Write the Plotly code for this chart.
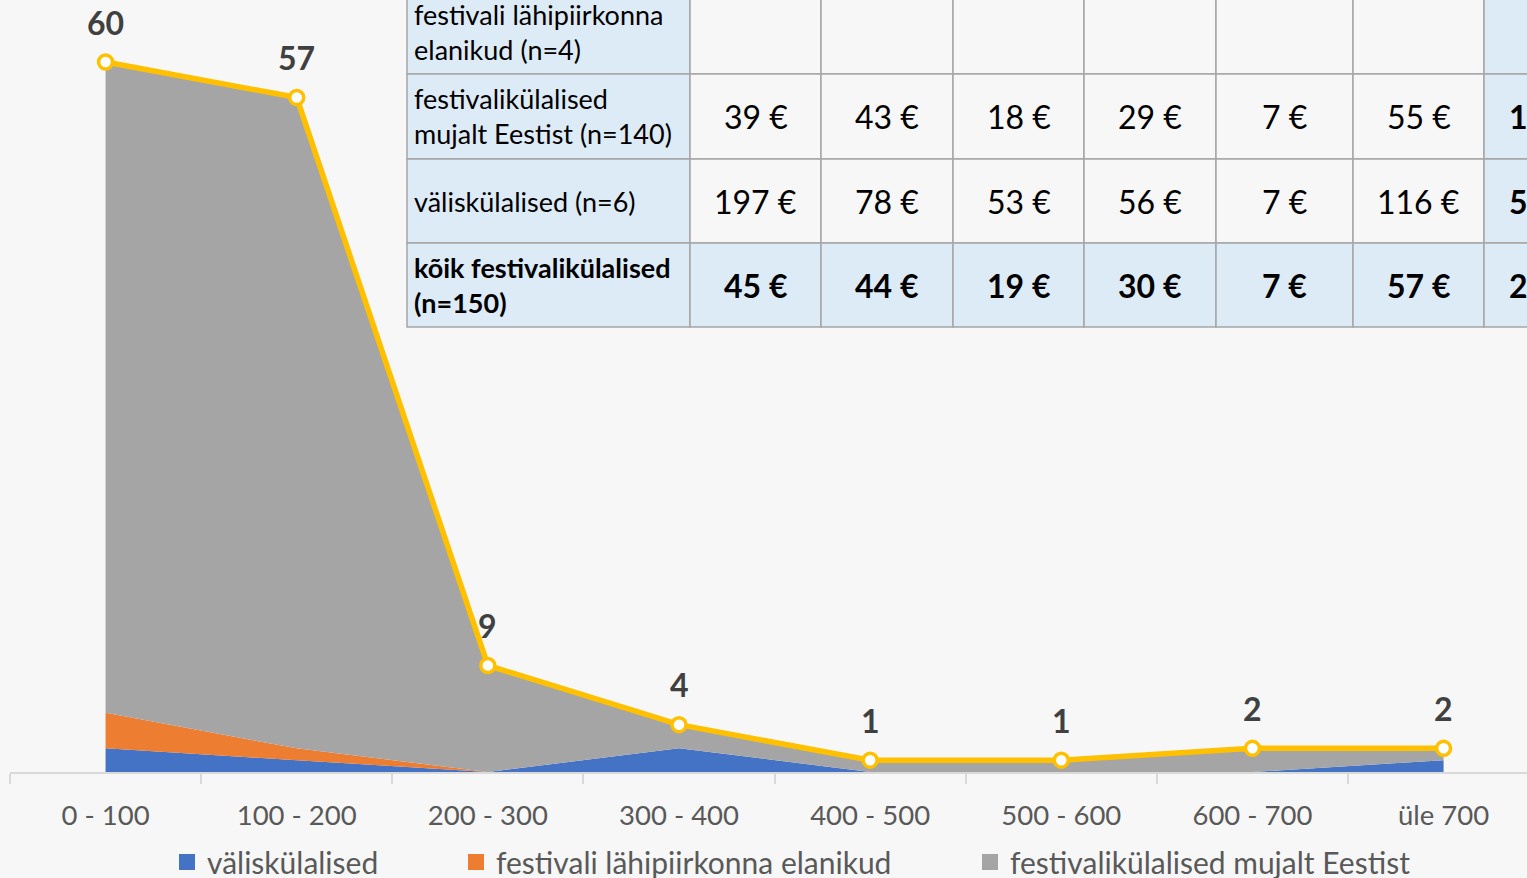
import plotly.graph_objects as go

# reisi kulutused vahemike kaupa (eurot) - vastajate arv
categories = ["0 - 100", "100 - 200", "200 - 300", "300 - 400", "400 - 500", "500 - 600", "600 - 700", "üle 700"]
valiskulalised = [2, 1, 0, 2, 0, 0, 0, 1]
lahipiirkond = [3, 1, 0, 0, 0, 0, 0, 0]
mujalt_eestist = [55, 55, 9, 2, 1, 1, 2, 1]
koik = [60, 57, 9, 4, 1, 1, 2, 2]

# keskmiste kulude tabel (ülemine rida ja viimane veerg on pildil osaliselt väljas)
table_labels = [
    "festivali lähipiirkonna<br>elanikud (n=4)",
    "festivalikülalised<br>mujalt Eestist (n=140)",
    "väliskülalised (n=6)",
    "<b>kõik festivalikülalised<br>(n=150)</b>",
]
table_values = [
    ["", "", "", "", "", "", ""],
    ["39 €", "43 €", "18 €", "29 €", "7 €", "55 €", "191 €"],
    ["197 €", "78 €", "53 €", "56 €", "7 €", "116 €", "507 €"],
    ["45 €", "44 €", "19 €", "30 €", "7 €", "57 €", "202 €"],
]

COLORS = {"blue": "#4472c4", "orange": "#ed7d31", "gray": "#a5a5a5", "yellow": "#ffc000",
          "bg": "#f7f7f7", "cell": "#ddebf7", "grid": "#a6a6a6", "text": "#595959", "label": "#404040"}
FONT = "Lato"

W, H = 1527, 878
PLOT_L, PLOT_T, PLOT_B = 10, 0, 106
PLOT_W, PLOT_H = W - PLOT_L, H - PLOT_T - PLOT_B

# table grid in pixels
COL_EDGES = [407, 690, 821, 953, 1084, 1216, 1353, 1484, 1615]
ROW_EDGES = [-11, 74, 159, 243, 327]


def px(x, y):
    return (x - PLOT_L) / PLOT_W, (PLOT_T + PLOT_H - y) / PLOT_H


fig = go.Figure()

series = [
    ("väliskülalised", valiskulalised, COLORS["blue"]),
    ("festivali lähipiirkonna elanikud", lahipiirkond, COLORS["orange"]),
    ("festivalikülalised mujalt Eestist", mujalt_eestist, COLORS["gray"]),
]
for name, vals, col in series:
    fig.add_trace(go.Scatter(
        x=categories, y=vals, name=name, stackgroup="one", mode="none",
        fillcolor=col, showlegend=False,
    ))

fig.add_trace(go.Scatter(
    x=categories, y=koik, mode="lines+markers", name="kokku", showlegend=False,
    line=dict(color=COLORS["yellow"], width=5.5),
    marker=dict(size=14, color="white", line=dict(color=COLORS["yellow"], width=3.5)),
))

# legend: each entry its own legend box so the spacing matches
legend_x = [167, 456, 970]
for i, ((name, vals, col), lx) in enumerate(zip(series, legend_x)):
    key = "legend" if i == 0 else f"legend{i + 1}"
    fig.add_trace(go.Scatter(
        x=[None], y=[None], mode="markers", name=name, legend=key,
        marker=dict(symbol="square", size=18, color=col),
    ))
    fig.update_layout({key: dict(
        x=px(lx, 0)[0], y=px(0, 862)[1], xanchor="left", yanchor="middle",
        orientation="h", bgcolor="rgba(0,0,0,0)", itemsizing="trace",
        font=dict(family=FONT, size=30, color=COLORS["text"]),
    )})

annotations = []
for cat, v in zip(categories, koik):
    annotations.append(dict(
        x=cat, y=v, text=str(v), showarrow=False, yshift=40,
        font=dict(family=FONT, size=32, color=COLORS["label"], weight="bold"),
    ))

shapes = []
n_rows = len(table_labels)
n_cols = len(COL_EDGES) - 1
for r in range(n_rows):
    y0, y1 = ROW_EDGES[r], ROW_EDGES[r + 1]
    for c in range(n_cols):
        x0, x1 = COL_EDGES[c], COL_EDGES[c + 1]
        blue = c == 0 or r == n_rows - 1 or c == n_cols - 1
        p0, p1 = px(x0, y1), px(x1, y0)
        shapes.append(dict(
            type="rect", xref="paper", yref="paper", x0=p0[0], y0=p0[1], x1=p1[0], y1=p1[1],
            fillcolor=COLORS["cell"] if blue else COLORS["bg"],
            line=dict(color=COLORS["grid"], width=1.5), layer="above",
        ))
    cy = (y0 + y1) / 2
    lx, ly = px(COL_EDGES[0] + 5, cy)
    annotations.append(dict(
        xref="paper", yref="paper", x=lx, y=ly, xanchor="left", yanchor="middle",
        text=table_labels[r], showarrow=False, align="left",
        font=dict(family=FONT, size=27, color="black"),
    ))
    for c, val in enumerate(table_values[r]):
        if not val:
            continue
        cx = (COL_EDGES[c + 1] + COL_EDGES[c + 2]) / 2
        vx, vy = px(cx, cy)
        bold = r == n_rows - 1 or c == len(table_values[r]) - 1
        annotations.append(dict(
            xref="paper", yref="paper", x=vx, y=vy, xanchor="center", yanchor="middle",
            text=val, showarrow=False,
            font=dict(family=FONT, size=32, color="black", weight="bold" if bold else "normal"),
        ))

x_right = -0.5 + (W - PLOT_L) / ((1443 - 105) / 7)

fig.update_layout(
    width=W, height=H,
    paper_bgcolor=COLORS["bg"], plot_bgcolor=COLORS["bg"],
    margin=dict(l=PLOT_L, r=0, t=PLOT_T, b=PLOT_B, autoexpand=False),
    font=dict(family=FONT),
    shapes=shapes, annotations=annotations,
    xaxis=dict(
        type="category", range=[-0.5, x_right], showgrid=False, zeroline=False,
        showline=True, linecolor="#d9d9d9", linewidth=2,
        ticks="outside", tickson="boundaries", ticklen=10, tickwidth=2, tickcolor="#d9d9d9",
        tickfont=dict(family=FONT, size=27.5, color=COLORS["text"]), ticklabelstandoff=18,
    ),
    yaxis=dict(range=[0, PLOT_H / ((772 - 62) / 60)], visible=False, showgrid=False, zeroline=False),
)

fig.write_html("out.html", config={"displayModeBar": False},
               post_script="document.body.style.margin='0';")
